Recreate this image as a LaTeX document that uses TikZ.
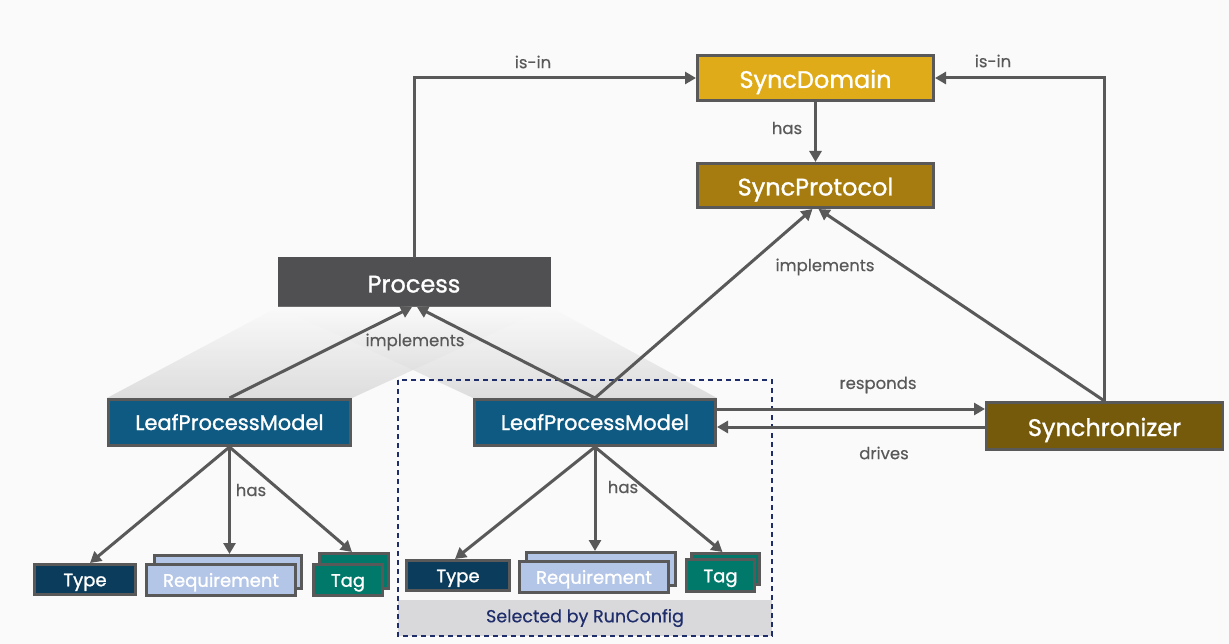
\documentclass[tikz,border=0pt]{standalone}
\usepackage{fontspec}
\setmainfont{Poppins}
\newfontfamily\boxfont[FakeBold=1.2]{Poppins}
\newfontfamily\lblfont[FakeBold=0.4]{Poppins}
\usetikzlibrary{arrows.meta}
\definecolor{edgec}{HTML}{595959}
\definecolor{lblc}{HTML}{595959}
\definecolor{bgc}{HTML}{FAFAFA}
\definecolor{sdc}{HTML}{E0AB18}
\definecolor{spc}{HTML}{A67C10}
\definecolor{syc}{HTML}{765A0B}
\definecolor{prc}{HTML}{505052}
\definecolor{lpmc}{HTML}{0F5A82}
\definecolor{typc}{HTML}{0B3C5C}
\definecolor{reqc}{HTML}{B4C6E7}
\definecolor{tagc}{HTML}{00796A}
\definecolor{navyc}{HTML}{1F2D6B}
\definecolor{barc}{HTML}{D9D9DB}
\begin{document}
\begin{tikzpicture}[x=1pt,y=-1pt,
  box/.style={draw=edgec, line width=3pt, text=white, inner sep=0pt,
    text height=20pt, text depth=0pt,
    font=\boxfont\fontsize{24}{28}\selectfont},
  midbox/.style={box, text height=15pt, font=\boxfont\fontsize{21}{25}\selectfont},
  smallbox/.style={box, text height=13.5pt, font=\boxfont\fontsize{18}{21}\selectfont},
  conn/.style={draw=edgec, line width=3pt, -{Triangle[length=11pt,width=12pt]}},
  lbl/.style={text=lblc, font=\lblfont\fontsize{16.5}{19}\selectfont},
  shadetrap/.style={top color=bgc, bottom color=black!17, fill opacity=0.75}]
\fill[bgc] (0,0) rectangle (1229,644);
\useasboundingbox (0,0) rectangle (1229,644);

% nodes
\node[box, fill=sdc, minimum width=236pt, minimum height=45pt] (sd) at (815.5,78) {SyncDomain};
\node[box, fill=spc, minimum width=236pt, minimum height=44pt] (sp) at (815.5,185.5) {SyncProtocol};
\node[box, draw=prc, line width=0pt, fill=prc, minimum width=272pt, minimum height=49pt] (proc) at (414,282.5) {Process};
\node[midbox, fill=lpmc, minimum width=242pt, minimum height=46pt] (lpma) at (229.5,422.5) {LeafProcessModel};
\node[midbox, fill=lpmc, minimum width=241pt, minimum height=46pt] (lpmb) at (595,422.5) {LeafProcessModel};
\node[box, fill=syc, minimum width=236pt, minimum height=47pt] (sync) at (1104.5,426) {Synchronizer};

% shading projections
\shade[shadetrap] (proc.south west) -- (proc.south east) -- (lpma.north east) -- (lpma.north west) -- cycle;
\shade[shadetrap] (proc.south west) -- (proc.south east) -- (lpmb.north east) -- (lpmb.north west) -- cycle;

% selected by runconfig
\fill[barc] (398,600) rectangle (772,636);
\node[font=\lblfont\fontsize{17.5}{20}\selectfont, text=navyc] (selbl) at (585,618) {Selected by RunConfig};
\draw[navyc, line width=1.2pt, dash pattern=on 5pt off 4pt] (398,380) rectangle (772,636);

% redraw boxes on top of shading
\node[midbox, fill=lpmc, minimum width=242pt, minimum height=46pt] at (lpma) {LeafProcessModel};
\node[midbox, fill=lpmc, minimum width=241pt, minimum height=46pt] at (lpmb) {LeafProcessModel};

% leaf children, group A
\node[smallbox, fill=typc, minimum width=101pt, minimum height=30pt] (typa) at (85,579.5) {Type};
\node[smallbox, fill=reqc, minimum width=147pt, minimum height=33pt] (reqab) at (228,572) {};
\node[smallbox, fill=reqc, minimum width=149pt, minimum height=31pt] (reqa) at (221,580) {Requirement};
\node[smallbox, fill=tagc, minimum width=69pt, minimum height=35pt] (tagab) at (354,571) {};
\node[smallbox, fill=tagc, minimum width=69pt, minimum height=31pt] (taga) at (348,580) {Tag};

% leaf children, group B
\node[smallbox, fill=typc, minimum width=103pt, minimum height=30pt] (typb) at (458,575.5) {Type};
\node[smallbox, fill=reqc, minimum width=149pt, minimum height=33pt] (reqbb) at (601,569) {};
\node[smallbox, fill=reqc, minimum width=149pt, minimum height=31pt] (reqb) at (594,577) {Requirement};
\node[smallbox, fill=tagc, minimum width=68pt, minimum height=31pt] (tagbb) at (725.5,569) {};
\node[smallbox, fill=tagc, minimum width=68pt, minimum height=32pt] (tagb) at (720.5,575.5) {Tag};

% connectors
\draw[conn] (proc.north) |- (sd.west);
\draw[conn] (sync.north) |- (sd.east);
\draw[conn] (sd.south) -- (sp.north);
\draw[conn] (lpmb.north) -- ([xshift=-3pt]sp.south);
\draw[conn] (sync.north) -- ([xshift=3pt]sp.south);
\draw[conn] (lpma.north) -- ([xshift=-2pt]proc.south);
\draw[conn] (lpmb.north) -- ([xshift=3pt]proc.south);
\draw[conn] ([yshift=13.5pt]lpmb.east) -- ([yshift=13.5pt]lpmb.east -| sync.west);
\draw[conn] ([yshift=-1pt]sync.west) -- ([yshift=-1pt]sync.west -| lpmb.east);

\draw[conn] (lpma.south) -- ([xshift=5pt]typa.north);
\draw[conn] (lpma.south) -- (lpma.south |- reqab.north);
\draw[conn] (lpma.south) -- ([xshift=-2pt]tagab.north);
\draw[conn] (lpmb.south) -- ([xshift=-3pt]typb.north);
\draw[conn] (lpmb.south) -- (lpmb.south |- reqbb.north);
\draw[conn] (lpmb.south) -- ([xshift=-3pt]tagbb.north);

% labels
\node[lbl] (l1) at (533,62) {is-in};
\node[lbl] (l2) at (993,61) {is-in};
\node[lbl] (l3) at (787,128) {has};
\node[lbl] (l4) at (825,267) {implements};
\node[lbl] (l5) at (415,342) {implements};
\node[lbl] (l6) at (878,385) {responds};
\node[lbl] (l7) at (884,453) {drives};
\node[lbl] (l8) at (251,490) {has};
\node[lbl] (l9) at (623,487) {has};
\end{tikzpicture}
\end{document}
